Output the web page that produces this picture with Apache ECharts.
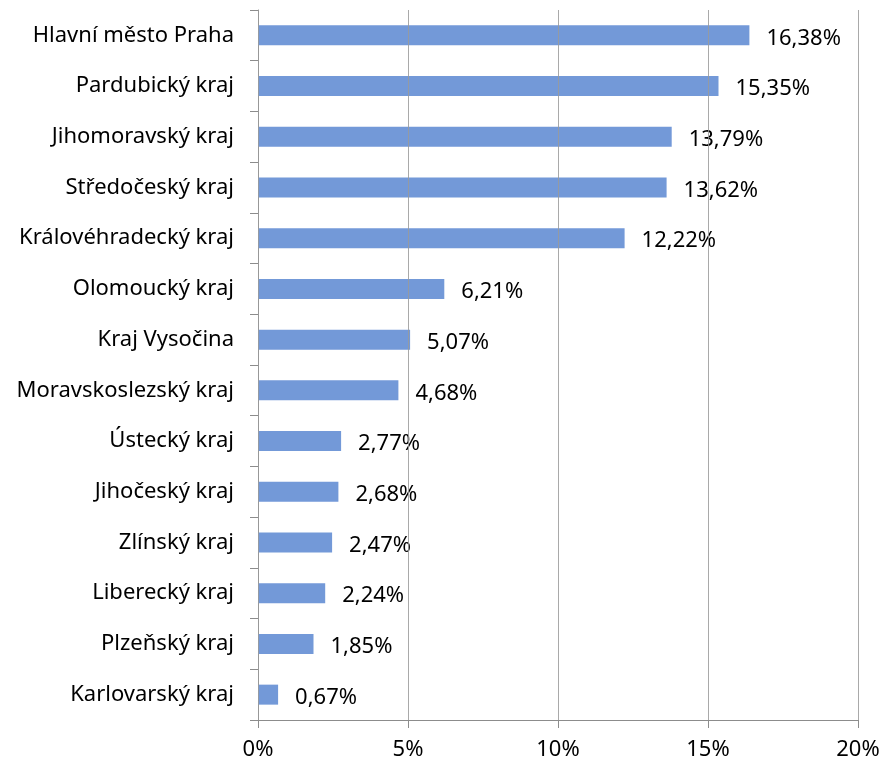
<!DOCTYPE html>
<html>
<head>
	<meta charset="utf-8">
	<title>Kraje</title>
	<script src="https://cdn.jsdelivr.net/npm/echarts@6/dist/echarts.min.js"></script>
	<style>
		html, body { margin: 0; padding: 0; background: #fff; }
	</style>
</head>
<body>
	<div id="echart" style="width: 884px; height: 765px"></div>
	<script>
		// data, top to bottom
		let regions = ['Hlavní město Praha', 'Pardubický kraj', 'Jihomoravský kraj', 'Středočeský kraj',
			'Královéhradecký kraj', 'Olomoucký kraj', 'Kraj Vysočina', 'Moravskoslezský kraj',
			'Ústecký kraj', 'Jihočeský kraj', 'Zlínský kraj', 'Liberecký kraj', 'Plzeňský kraj', 'Karlovarský kraj'];
		let shares = [16.38, 15.35, 13.79, 13.62, 12.22, 6.21, 5.07, 4.68, 2.77, 2.68, 2.47, 2.24, 1.85, 0.67];

		let font = "'Noto Sans', sans-serif";
		let mychart = echarts.init(document.getElementById('echart'));
		let option = {
			animation: false,
			grid: { left: 258, right: 26, top: 10, bottom: 45 },
			xAxis: {
				type: 'value',
				z: 3, // grid lines run over the bars
				min: 0,
				max: 20,
				interval: 5,
				axisLine: { show: true, lineStyle: { color: '#8c8c8c' } },
				axisTick: { show: true, length: 8, lineStyle: { color: '#8c8c8c' } },
				splitLine: { show: true, lineStyle: { color: '#9a9a9a', opacity: 0.85 } },
				axisLabel: {
					color: '#000', fontSize: 22, fontFamily: font, margin: 19,
					formatter: function (v) { return v + '%'; }
				}
			},
			yAxis: {
				type: 'category',
				inverse: true,
				data: regions,
				axisLine: { show: true, lineStyle: { color: '#8c8c8c' } },
				axisTick: { show: true, length: 8, lineStyle: { color: '#8c8c8c' } },
				axisLabel: { color: '#000', fontSize: 22, fontFamily: font, margin: 24 }
			},
			series: [{
				type: 'bar',
				data: shares,
				barWidth: 20,
				itemStyle: { color: '#7399d8' },
				label: {
					show: true,
					position: 'right',
					distance: 17,
					color: '#000',
					fontSize: 22,
					fontFamily: font,
					offset: [0, 3],
					formatter: function (p) { return p.value.toFixed(2).replace('.', ',') + '%'; }
				}
			}]
		};
		mychart.setOption(option);
	</script>
</body>
</html>
